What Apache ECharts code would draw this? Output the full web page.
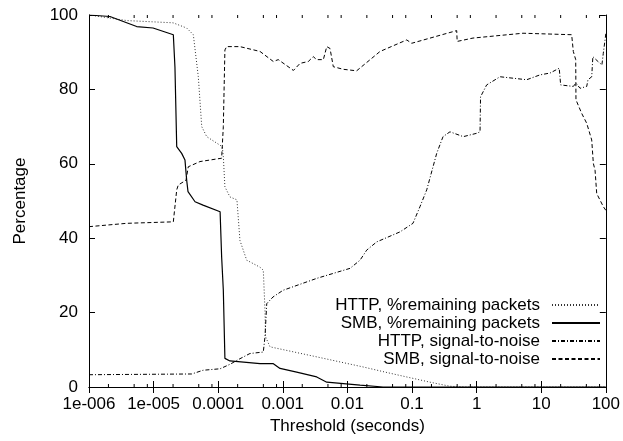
<!DOCTYPE html>
<html>
<head>
<meta charset="utf-8">
<script src="https://cdn.jsdelivr.net/npm/echarts@6/dist/echarts.min.js"></script>
<style>html,body{margin:0;padding:0;background:#fff}#c{width:623px;height:441px}</style>
</head>
<body>
<div id="c"></div>
<script>
// Tick labels for x axis decades (1e-6 .. 100)
var xTickLabels = ['1e-006', '1e-005', '0.0001', '0.001', '0.01', '0.1', '1', '10', '100'];
// Minor tick mantissas per decade as drawn in the reference
var minorMantissas = [2, 5, 8];
var decadeStarts = [1e-6, 1e-5, 1e-4, 1e-3, 1e-2, 1e-1, 1, 10];

var seriesNames = ['HTTP, %remaining packets', 'SMB, %remaining packets', 'HTTP, signal-to-noise', 'SMB, signal-to-noise'];

// [threshold seconds, percentage]
var httpRemaining = [
  [1e-6, 100], [3.87e-6, 98.5], [2.0e-5, 97.9], [3.25e-5, 96.5], [4.12e-5, 94.7],
  [4.92e-5, 83.4], [5.56e-5, 70], [6.64e-5, 67.3], [1.156e-4, 64.6], [1.2e-4, 62],
  [1.27e-4, 53.8], [1.52e-4, 51.1], [1.95e-4, 50.3], [2.17e-4, 39.4], [2.76e-4, 34.1],
  [4.44e-4, 32.2], [4.99e-4, 31.4], [5.30e-4, 20.6], [5.40e-4, 13.5], [6.34e-4, 10.8],
  [3.35e-3, 8.1], [1.74e-2, 5.4], [4.57e-2, 3.7], [0.19, 1.3], [0.387, 0.2],
  [0.66, 0], [100, 0]
];
var smbRemaining = [
  [1e-6, 100], [2.11e-6, 99.6], [5.47e-6, 96.9], [9.8e-6, 96.5], [2.02e-5, 94.7],
  [2.14e-5, 86], [2.28e-5, 64.6], [2.72e-5, 62.8], [3.06e-5, 61], [3.25e-5, 55.6],
  [3.41e-5, 52.5], [4.38e-5, 49.8], [5.82e-5, 48.9], [1.07e-4, 47.1], [1.13e-4, 35],
  [1.20e-4, 26], [1.27e-4, 7.7], [1.52e-4, 7.0], [4.44e-4, 6.3], [7.05e-4, 6.3],
  [9.06e-4, 5.0], [1.64e-3, 4.0], [3.35e-3, 2.7], [4.79e-3, 1.3], [1.57e-2, 0.5],
  [3.56e-2, 0], [100, 0]
];
var httpSignal = [
  [1e-6, 3.3], [3.89e-5, 3.5], [5.82e-5, 4.5], [1.07e-4, 4.9], [1.52e-4, 6.1],
  [2.17e-4, 7.6], [3.10e-4, 9.0], [4.99e-4, 9.4], [5.30e-4, 13.5], [5.64e-4, 22.4],
  [7.05e-4, 24.2], [1.01e-3, 26], [3.35e-3, 29.2], [1.10e-2, 31.9], [1.57e-2, 34.1],
  [1.99e-2, 36.8], [2.84e-2, 39], [6.52e-2, 41.7], [0.1035, 44], [0.133, 48.5],
  [0.169, 53], [0.241, 62.8], [0.302, 67.3], [0.387, 68.6], [0.622, 67.3],
  [1.0, 68.2], [1.13, 68.6], [1.15, 78], [1.43, 81.2], [2.30, 83.4],
  [5.96, 82.6], [9.57, 83.9], [13.7, 84.4], [19.0, 85.7], [19.5, 86.1],
  [20.0, 81.2], [31.4, 80.8], [34.5, 81.7], [39.9, 80.3], [50.6, 80.8],
  [53.0, 82.6], [60.5, 83.4], [63.0, 88.8], [75.7, 87.5], [87.0, 86.6],
  [91.4, 89.7], [97.3, 93.3], [100, 95]
];
var smbSignal = [
  [1e-6, 43.1], [3.84e-6, 44.0], [2.02e-5, 44.4], [2.28e-5, 53], [2.41e-5, 54.3],
  [3.18e-5, 55.6], [3.44e-5, 59.2], [5.22e-5, 60.6], [1.13e-4, 61.5], [1.20e-4, 70],
  [1.27e-4, 90.6], [1.35e-4, 91.5], [2.17e-4, 91.5], [4.44e-4, 90.2], [7.13e-4, 87.5],
  [8.51e-4, 88], [1.46e-3, 85.1], [1.85e-3, 87], [2.48e-3, 87.5], [2.96e-3, 88.8],
  [3.35e-3, 88], [4.24e-3, 88], [4.79e-3, 91.5], [5.38e-3, 91], [6.05e-3, 86.1],
  [8.65e-3, 85.4], [1.39e-2, 85], [3.20e-2, 90.2], [8.28e-2, 93.3], [9.89e-2, 92.4],
  [0.387, 95.3], [0.492, 95.8], [0.50, 92.9], [0.879, 93.8], [5.22, 95.1],
  [29.6, 94.7], [31.4, 90.2], [34.2, 88], [34.5, 77.2], [42.2, 73.6],
  [50.6, 70.9], [60.5, 66.4], [64.1, 60.1], [68.1, 58.3], [72.3, 52],
  [91.4, 48.5], [100, 47.5]
];

var minorTickValues = [];
decadeStarts.forEach(function (d) { minorMantissas.forEach(function (m) { minorTickValues.push(m * d); }); });

var FONT = "'Liberation Sans', Arial, Helvetica, sans-serif";
var chart = echarts.init(document.getElementById('c'), null, { renderer: 'canvas' });
var gridRect = { left: 89, right: 17, top: 15, bottom: 54 };
var lineAxis = { show: true, lineStyle: { color: '#000', width: 1 } };

function mkSeries(name, data, style) {
  return {
    name: name, type: 'line', data: data, xAxisIndex: 0, yAxisIndex: 0,
    symbol: 'none', showSymbol: false, smooth: false,
    lineStyle: style, itemStyle: { color: style.color }, color: style.color,
    emphasis: { disabled: true }, silent: true
  };
}

// Minor ticks drawn through the library's own log scale (converted to pixels via convertToPixel)
function minorTickGraphics() {
  var els = [];
  var top = gridRect.top, bottom = 441 - gridRect.bottom;
  minorTickValues.forEach(function (v) {
    var x = chart.convertToPixel({ xAxisIndex: 0 }, v);
    els.push({ type: 'line', shape: { x1: x, y1: bottom, x2: x, y2: bottom - 3 }, style: { stroke: '#000', lineWidth: 1 }, silent: true });
    els.push({ type: 'line', shape: { x1: x, y1: top, x2: x, y2: top + 3 }, style: { stroke: '#000', lineWidth: 1 }, silent: true });
  });
  return els;
}

chart.setOption({
  animation: false,
  backgroundColor: '#fff',
  textStyle: { fontFamily: FONT, color: '#000' },
  grid: [Object.assign({ containLabel: false }, gridRect)],
  xAxis: [
    {
      type: 'log', logBase: 10, min: 1e-6, max: 100, interval: 1, gridIndex: 0, position: 'bottom',
      axisLine: lineAxis,
      axisTick: { show: true, inside: true, length: 6, lineStyle: { color: '#000' } },
      minorTick: { show: false },
      splitLine: { show: false },
      axisLabel: {
        show: true, margin: 9, fontSize: 17, color: '#000', fontFamily: FONT,
        formatter: function (v) { return xTickLabels[Math.round(Math.log10(v)) + 6]; }
      },
      name: 'Threshold (seconds)', nameLocation: 'middle', nameGap: 30,
      nameTextStyle: { fontSize: 17, color: '#000', fontFamily: FONT }
    },
    {
      type: 'log', logBase: 10, min: 1e-6, max: 100, interval: 1, gridIndex: 0, position: 'top',
      axisLine: lineAxis,
      axisTick: { show: true, inside: true, length: 6, lineStyle: { color: '#000' } },
      splitLine: { show: false }, axisLabel: { show: false }
    }
  ],
  yAxis: [
    {
      type: 'value', min: 0, max: 100, interval: 20, gridIndex: 0, position: 'left',
      axisLine: lineAxis,
      axisTick: { show: true, inside: true, length: 6, lineStyle: { color: '#000' } },
      splitLine: { show: false },
      axisLabel: { show: true, margin: 11, fontSize: 17, color: '#000', fontFamily: FONT },
      name: 'Percentage', nameLocation: 'middle', nameGap: 60,
      nameTextStyle: { fontSize: 17, color: '#000', fontFamily: FONT }
    },
    {
      type: 'value', min: 0, max: 100, interval: 20, gridIndex: 0, position: 'right',
      axisLine: lineAxis,
      axisTick: { show: true, inside: true, length: 6, lineStyle: { color: '#000' } },
      splitLine: { show: false }, axisLabel: { show: false }
    }
  ],
  legend: {
    show: true, orient: 'vertical', align: 'right', right: 22, top: 296, padding: 0,
    itemWidth: 48, itemHeight: 10, itemGap: 0,
    selectedMode: false,
    itemStyle: { opacity: 0 },
    textStyle: { fontSize: 17, color: '#000', fontFamily: FONT, lineHeight: 18, padding: [0, 7, 0, 0] },
    data: seriesNames
  },
  series: [
    mkSeries(seriesNames[0], httpRemaining, { color: '#333', width: 1, type: [1, 2] }),
    mkSeries(seriesNames[1], smbRemaining, { color: '#000', width: 1.2, type: 'solid' }),
    mkSeries(seriesNames[2], httpSignal, { color: '#000', width: 1, type: [4, 2, 1, 2] }),
    mkSeries(seriesNames[3], smbSignal, { color: '#000', width: 1, type: [4, 2.5] })
  ]
});
chart.setOption({ graphic: { elements: minorTickGraphics() } });
</script>
</body>
</html>
